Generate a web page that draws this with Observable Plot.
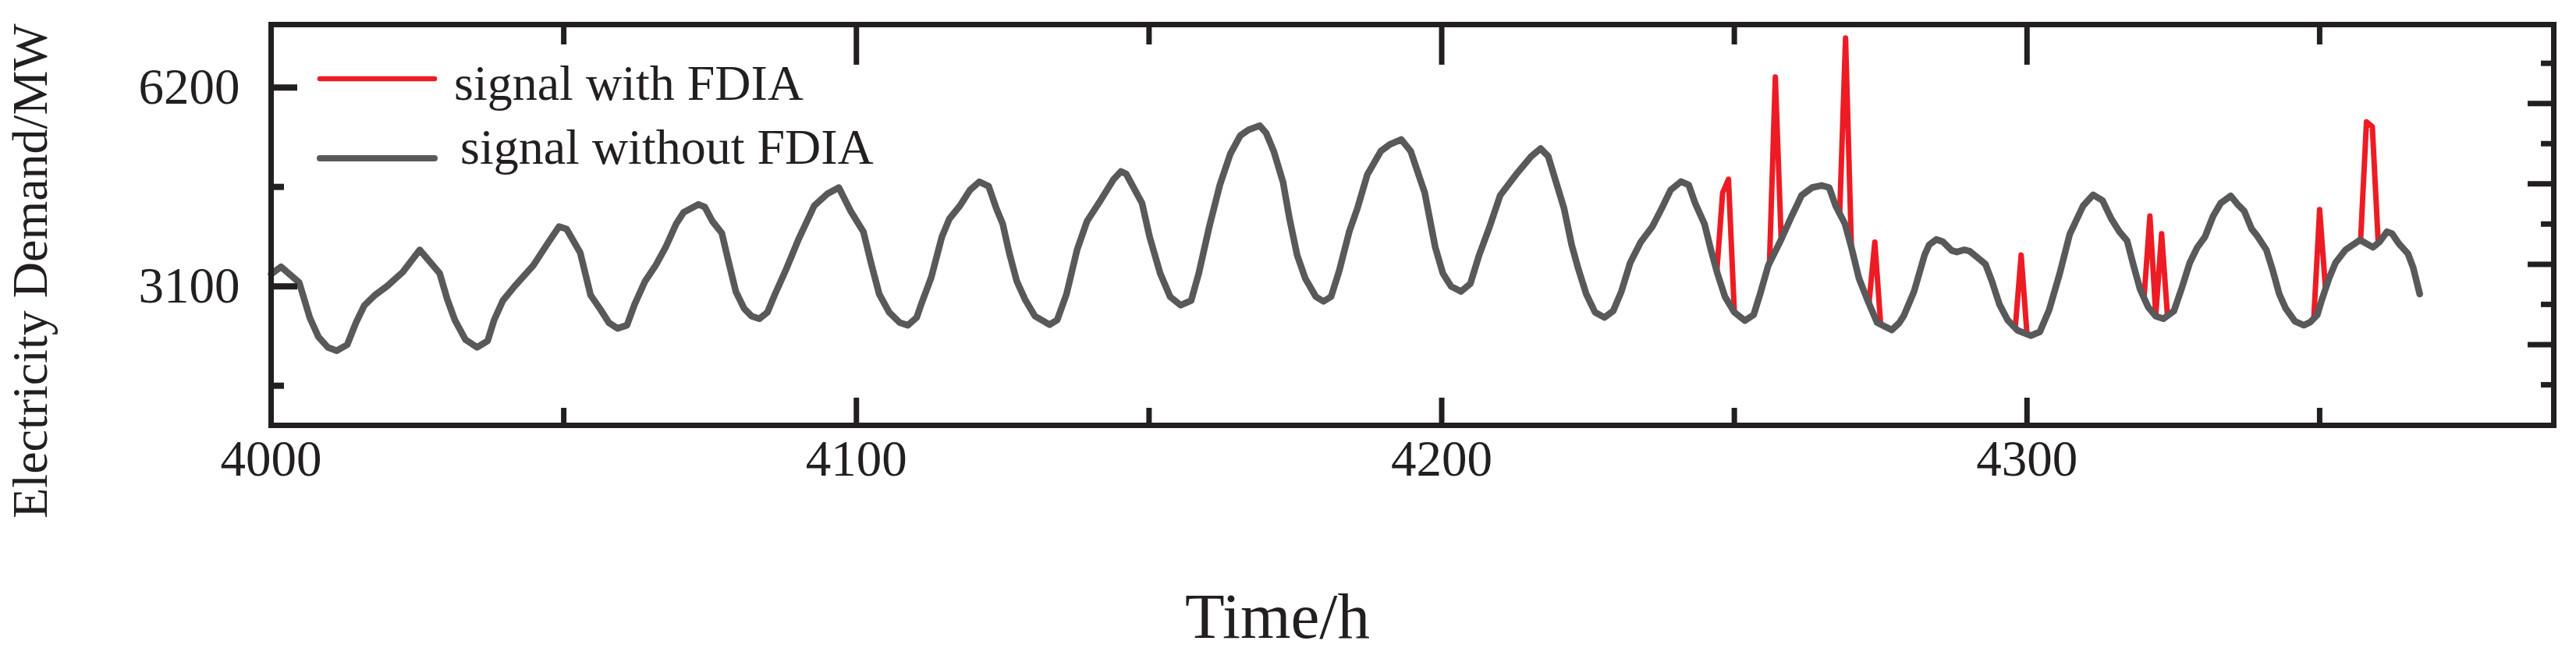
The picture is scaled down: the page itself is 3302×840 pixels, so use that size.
<!DOCTYPE html>
<html>
<head>
<meta charset="utf-8">
<script src="https://cdn.jsdelivr.net/npm/d3@7"></script>
<script src="https://cdn.jsdelivr.net/npm/@observablehq/plot@0.6"></script>
<style>
  html, body { margin: 0; padding: 0; background: #ffffff; }
  #chart svg { display: block; }
</style>
</head>
<body>
<div id="chart"></div>
<script>
// ---------- data ----------
// signal without FDIA (hour, MW)
const grayHour = [
  4000.0, 4001.7, 4004.8, 4006.6, 4008.1, 4009.7, 4011.2, 4013.0, 4014.5, 4015.9,
  4017.7, 4019.9, 4022.5, 4025.4, 4028.8, 4030.1, 4031.4, 4033.2, 4035.2, 4037.0,
  4038.1, 4039.6, 4041.6, 4044.8, 4047.4, 4049.2, 4050.5, 4052.8, 4054.6, 4056.3,
  4057.7, 4059.2, 4060.8, 4062.1, 4063.9, 4065.7, 4067.4, 4069.2, 4070.5, 4073.0,
  4074.1, 4075.4, 4077.0, 4078.1, 4079.4, 4080.8, 4082.1, 4083.4, 4084.8, 4086.1,
  4087.9, 4090.1, 4092.8, 4095.0, 4097.0, 4099.0, 4101.2, 4102.5, 4103.9, 4105.6,
  4107.4, 4108.8, 4110.3, 4111.0, 4112.8, 4114.6, 4115.9, 4117.7, 4119.4, 4121.0,
  4122.6, 4123.9, 4125.0, 4126.1, 4127.4, 4128.8, 4130.5, 4133.0, 4134.3, 4135.9,
  4137.7, 4139.4, 4141.7, 4143.9, 4145.2, 4146.1, 4148.8, 4150.1, 4151.9, 4153.6,
  4155.4, 4157.2, 4158.5, 4160.3, 4162.1, 4163.9, 4165.6, 4167.0, 4168.9, 4170.0,
  4171.3, 4172.9, 4174.0, 4175.3, 4176.7, 4178.5, 4179.8, 4181.1, 4182.5, 4184.2,
  4185.6, 4187.3, 4189.6, 4191.1, 4193.1, 4194.7, 4197.1, 4198.9, 4200.2, 4201.6,
  4203.3, 4204.9, 4206.4, 4208.2, 4210.0, 4212.7, 4215.3, 4216.9, 4218.2, 4220.9,
  4222.2, 4223.3, 4224.7, 4226.2, 4227.8, 4229.3, 4230.7, 4232.2, 4234.0, 4236.0,
  4237.6, 4239.1, 4240.9, 4242.2, 4243.3, 4244.9, 4246.0, 4247.1, 4248.4, 4250.0,
  4251.8, 4253.3, 4254.4, 4255.8, 4258.0, 4259.8, 4261.5, 4263.3, 4264.9, 4266.2,
  4267.3, 4268.9, 4270.0, 4271.3, 4272.7, 4274.4, 4276.9, 4278.2, 4279.0, 4280.7,
  4282.5, 4283.3, 4284.5, 4285.6, 4287.1, 4288.0, 4289.3, 4290.2, 4291.3, 4292.9,
  4294.0, 4295.3, 4296.7, 4298.4, 4300.7, 4302.2, 4303.8, 4305.6, 4307.3, 4309.6,
  4311.3, 4312.9, 4314.4, 4315.8, 4317.1, 4318.2, 4319.3, 4320.7, 4322.0, 4323.3,
  4325.1, 4326.4, 4327.8, 4329.1, 4330.4, 4331.8, 4333.1, 4334.8, 4336.0, 4337.1,
  4338.4, 4339.3, 4340.9, 4342.0, 4343.1, 4344.2, 4345.8, 4347.3, 4348.4, 4349.6,
  4350.4, 4351.6, 4352.7, 4354.4, 4356.9, 4359.1, 4360.2, 4361.5, 4362.4, 4363.5,
  4365.1, 4366.0, 4367.1
];
const grayValue = [
  3290, 3404, 3161, 2614, 2310, 2148, 2096, 2189, 2533, 2797,
  2959, 3108, 3323, 3668, 3303, 2898, 2574, 2270, 2148, 2250,
  2574, 2878, 3100, 3425, 3789, 4032, 3992, 3627, 2960, 2736,
  2533, 2444, 2493, 2817, 3181, 3425, 3708, 4073, 4255, 4377,
  4336, 4114, 3931, 3506, 3019, 2756, 2635, 2594, 2695, 2979,
  3344, 3830, 4357, 4539, 4640, 4276, 3951, 3465, 2979, 2695,
  2533, 2493, 2614, 2800, 3242, 3870, 4154, 4357, 4600, 4729,
  4660, 4316, 4073, 3627, 3181, 2898, 2635, 2501, 2574, 2979,
  3668, 4114, 4438, 4762, 4891, 4851, 4397, 3870, 3303, 2938,
  2805, 2878, 3303, 4032, 4681, 5167, 5451, 5540, 5605, 5491,
  5208, 4721, 4154, 3587, 3222, 2938, 2865, 2938, 3344, 3951,
  4316, 4843, 5208, 5309, 5390, 5208, 4559, 3708, 3303, 3100,
  3019, 3141, 3587, 4032, 4519, 4843, 5126, 5248, 5126, 4316,
  3749, 3384, 2979, 2695, 2614, 2716, 3019, 3465, 3789, 4032,
  4316, 4600, 4734, 4681, 4397, 4073, 3668, 3303, 2938, 2695,
  2566, 2655, 2979, 3425, 3830, 4195, 4519, 4640, 4673, 4640,
  4357, 4073, 3708, 3222, 2898, 2533, 2420, 2533, 2650, 3019,
  3587, 3749, 3830, 3797, 3660, 3635, 3668, 3648, 3567, 3445,
  3181, 2817, 2574, 2412, 2331, 2391, 2736, 3303, 3911, 4357,
  4527, 4438, 4154, 3951, 3810, 3425, 3060, 2776, 2635, 2594,
  2716, 3060, 3465, 3708, 3870, 4195, 4397, 4510, 4377, 4276,
  3992, 3891, 3668, 3344, 2979, 2756, 2553, 2493, 2541, 2655,
  2898, 3222, 3465, 3668, 3822, 3708, 3789, 3951, 3919, 3769,
  3607, 3384, 2979
];
// signal with FDIA: attacked stretches (group, hour, MW)
const fdiaGroup = [1, 1, 1, 1, 2, 2, 2, 3, 3, 3, 4, 4, 4, 5, 5, 5, 6, 6, 6, 6, 6, 7, 7, 7, 8, 8, 8, 8];
const fdiaHour  = [4247, 4248, 4249, 4250, 4256, 4257, 4258, 4268, 4269, 4270, 4273, 4274, 4275,
                   4298, 4299, 4300, 4320, 4321, 4322, 4323, 4324, 4349, 4350, 4351, 4357, 4358, 4359, 4360];
const fdiaValue = [3320, 4560, 4770, 2695, 3460, 6362, 3830, 4230, 6970, 3708, 2830, 3789, 2505,
                   2450, 3587, 2355, 2920, 4195, 2650, 3919, 2640, 2600, 4296, 3060, 3822, 5665, 5590, 3789];

// axes
const xLabelTicks = [4000, 4100, 4200, 4300];
const xMajorTicks = [4100, 4200, 4300];
const xMinorTicks = [4050, 4150, 4250, 4350];
const yLabelTicks = [3100, 6200];
const yMinorTicks = [1550, 4650];
const rightLongTicks = [2191, 3444, 4697, 5950];
const rightShortTicks = [1565, 2818, 4071, 5324, 6577];
const xDomain = [4000, 4390];
const yDomain = [932, 7181];

const legendLabels = ["signal with FDIA", "signal without FDIA"];

// ---------- styles / layout ----------
const INK = "#231f20";
const RED = "#ed1c24";
const GRAY = "#58595b";
const FONT = "'Liberation Serif', 'Times New Roman', Times, serif";
const W = 3302, H = 840;
const mTop = 31, mBottom = 295, mLeft = 347, mRight = 29;
const innerW = W - mLeft - mRight, innerH = H - mTop - mBottom;

// ---------- build series ----------
const gray = grayHour.map((h, i) => ({hour: h, value: grayValue[i]}));
const fdia = fdiaHour.map((h, i) => ({group: fdiaGroup[i], hour: h, value: fdiaValue[i]}));
const spans = d3.rollups(fdia, v => d3.extent(v, d => d.hour), d => d.group).map(d => d[1]);
const red = gray
  .filter(d => !spans.some(([a, b]) => d.hour >= a && d.hour <= b))
  .concat(fdia.map(({hour, value}) => ({hour, value})))
  .sort((a, b) => a.hour - b.hour);

function legendMark() {
  const g = d3.create("svg:g");
  const rows = [
    {label: legendLabels[0], color: RED, width: 6.5, ly: 101, tx: 582, ty: 128},
    {label: legendLabels[1], color: GRAY, width: 8, ly: 203, tx: 590, ty: 210}
  ];
  for (const r of rows) {
    g.append("line")
      .attr("x1", 410).attr("x2", 557).attr("y1", r.ly).attr("y2", r.ly)
      .attr("stroke", r.color).attr("stroke-width", r.width).attr("stroke-linecap", "round");
    g.append("text")
      .attr("x", r.tx).attr("y", r.ty)
      .attr("text-anchor", "start")
      .attr("font-family", FONT).attr("font-size", 64).attr("fill", INK)
      .text(r.label);
  }
  return g.node();
}

const tickStyle = {stroke: INK, strokeWidth: 7, strokeLinecap: "butt"};

const chart = Plot.plot({
  width: W, height: H,
  marginTop: mTop, marginBottom: mBottom, marginLeft: mLeft, marginRight: mRight,
  x: {domain: xDomain},
  y: {domain: yDomain},
  style: {background: "#ffffff", color: INK, fontFamily: FONT, overflow: "visible"},
  marks: [
    Plot.line(red, {x: "hour", y: "value", stroke: RED, strokeWidth: 7}),
    Plot.line(gray, {x: "hour", y: "value", stroke: GRAY, strokeWidth: 8.5}),
    // top ticks
    Plot.tickX(xMajorTicks, {x: d => d, ...tickStyle, insetBottom: innerH - 52}),
    Plot.tickX(xMinorTicks, {x: d => d, ...tickStyle, insetBottom: innerH - 26}),
    // bottom ticks
    Plot.tickX(xMajorTicks, {x: d => d, ...tickStyle, insetTop: innerH - 35}),
    Plot.tickX(xMinorTicks, {x: d => d, ...tickStyle, insetTop: innerH - 22}),
    // left ticks
    Plot.tickY(yLabelTicks, {y: d => d, ...tickStyle, strokeWidth: 8, insetRight: innerW - 34}),
    Plot.tickY(yMinorTicks, {y: d => d, ...tickStyle, strokeWidth: 8, insetRight: innerW - 17}),
    // right ticks
    Plot.tickY(rightLongTicks, {y: d => d, ...tickStyle, insetLeft: innerW - 33}),
    Plot.tickY(rightShortTicks, {y: d => d, ...tickStyle, insetLeft: innerW - 16}),
    Plot.frame({stroke: INK, strokeWidth: 7}),
    Plot.axisX({ticks: xLabelTicks, tickSize: 0, tickPadding: 64, lineAnchor: "bottom",
                fontSize: 65, tickFormat: "d", label: null, fill: INK}),
    Plot.axisY({ticks: yLabelTicks, tickSize: 0, tickPadding: 40,
                fontSize: 65, tickFormat: "d", label: null, fill: INK}),
    Plot.text(["Time/h"], {text: d => d, frameAnchor: "bottom", dx: -173, dy: 272,
                           textAnchor: "middle", lineAnchor: "bottom", fontSize: 83, fill: INK}),
    Plot.text(["Electricity Demand/MW"], {text: d => d, frameAnchor: "left", rotate: -90,
                           dx: -288, dy: 59, textAnchor: "middle", lineAnchor: "bottom",
                           fontSize: 64, fill: INK}),
    legendMark
  ]
});
document.getElementById("chart").appendChild(chart);
</script>
</body>
</html>
